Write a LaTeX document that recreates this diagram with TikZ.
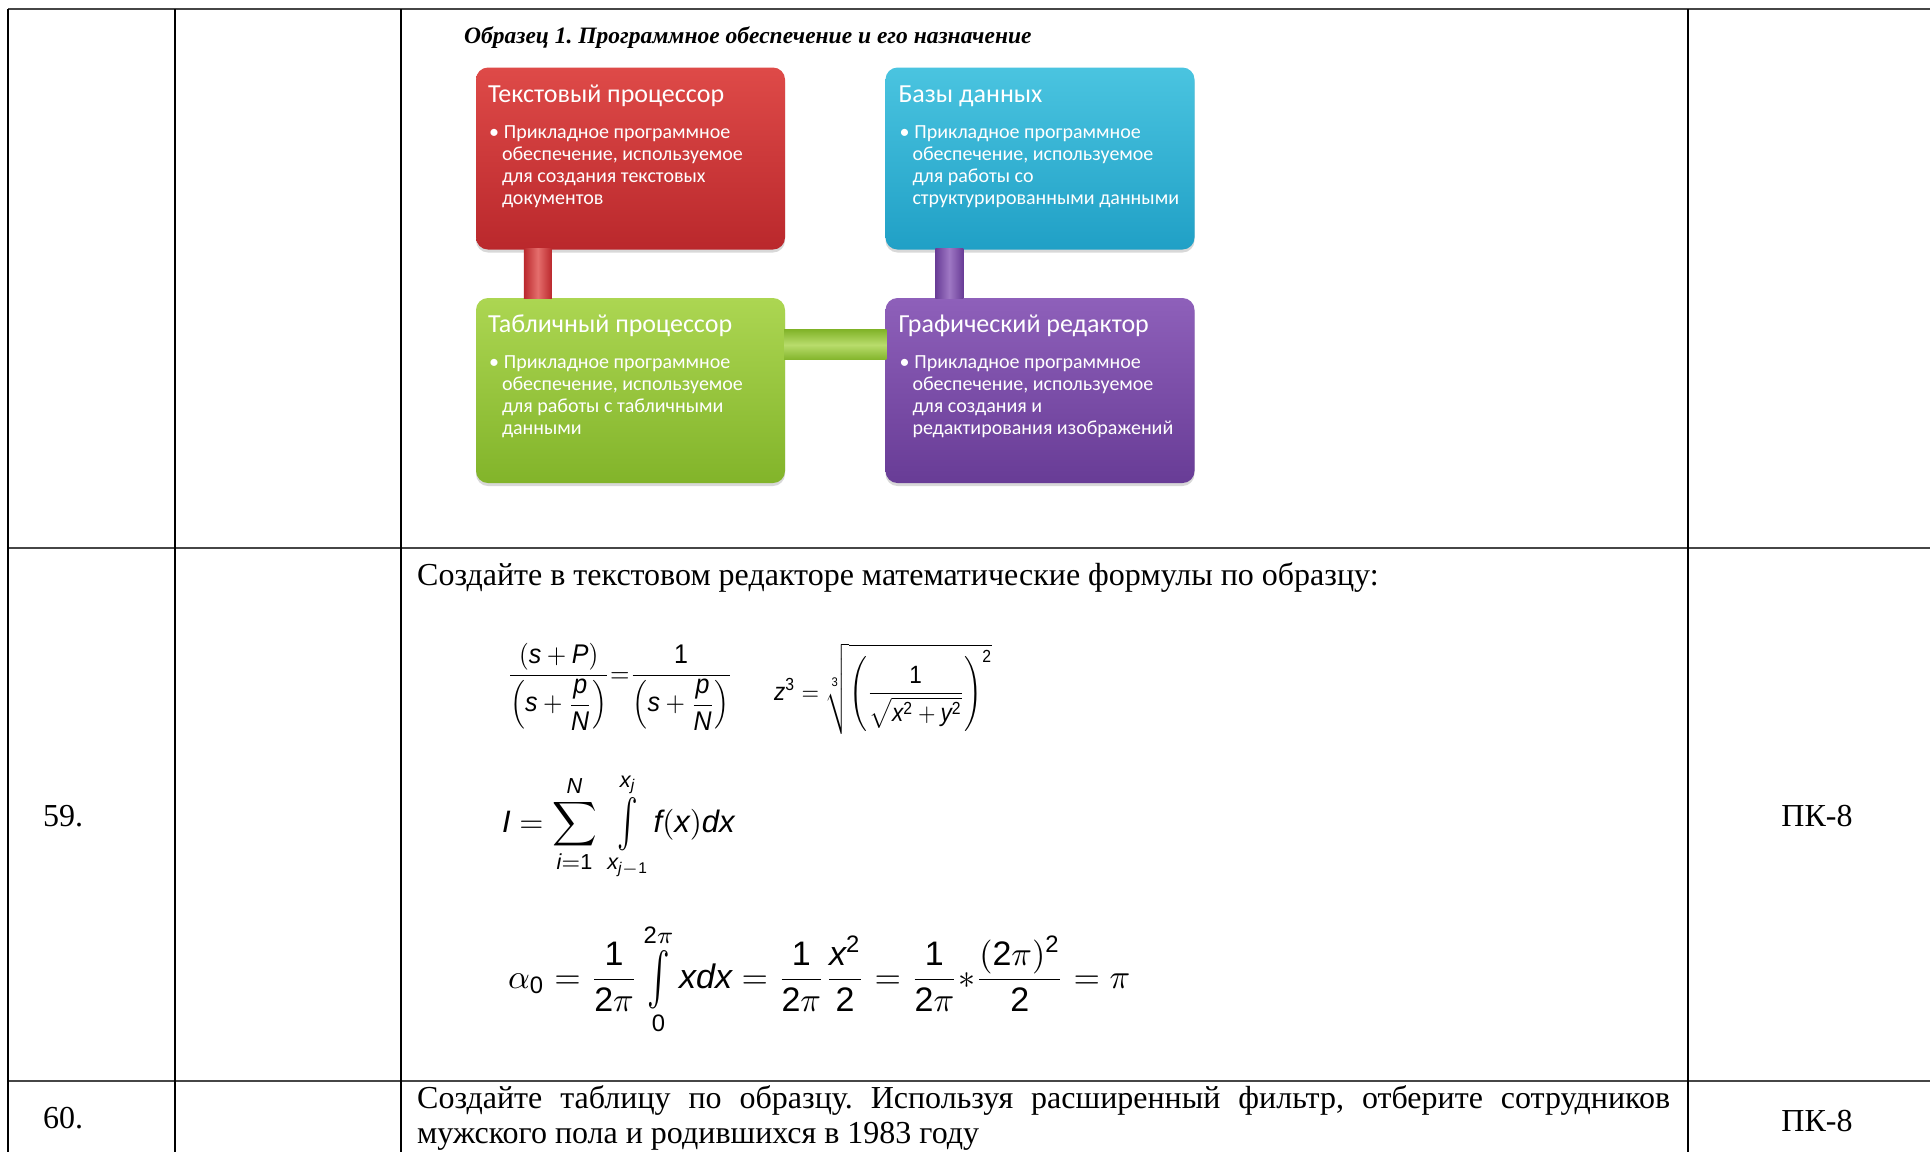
\documentclass[tikz,border=0pt]{standalone}
\usepackage{amsmath}
\usepackage{graphicx}
\usepackage{fontspec}
\setmainfont{Liberation Serif}
\newfontfamily\boxfont{Carlito}
\newfontfamily\arialfont{Liberation Sans}
\usetikzlibrary{shadows,calc}
\newcommand\mv[1]{\text{\arialfont\itshape #1}}
\newcommand\mn[1]{\text{\arialfont #1}}
\newcommand\smint{\mathop{\vcenter{\hbox{\scalebox{1}[1.55]{$\textstyle\int$}}}}\limits}
\definecolor{redTop}{RGB}{222,74,72}
\definecolor{redBot}{RGB}{186,40,44}
\definecolor{blueTop}{RGB}{74,196,224}
\definecolor{blueBot}{RGB}{32,160,198}
\definecolor{greenTop}{RGB}{172,214,82}
\definecolor{greenBot}{RGB}{130,180,42}
\definecolor{purpTop}{RGB}{142,96,186}
\definecolor{purpBot}{RGB}{104,60,150}
\definecolor{hline}{RGB}{70,70,70}
\frenchspacing
\tikzset{
  hrule/.style={line width=2.4pt, hline},
  vrule/.style={line width=2pt, black},
  cell/.style={inner sep=0pt, font=\fontsize{32}{35}\selectfont},
  sbox/.style={rounded corners=12pt, minimum width=309pt, minimum height=182pt, inner sep=0pt,
     drop shadow={opacity=0.3, shadow xshift=0pt, shadow yshift=-3pt}},
  btitle/.style={inner sep=0pt, anchor=base west, text=white, font=\boxfont\fontsize{26}{30}\selectfont},
  bbody/.style={inner sep=0pt, anchor=base west, text=white, font=\boxfont\fontsize{20}{22}\selectfont},
  fml/.style={inner sep=0pt, anchor=base west},
}
\begin{document}
\begin{tikzpicture}[x=1pt,y=-1pt]
\useasboundingbox (0,0) rectangle (1930,1152);
\fill[white] (0,0) rectangle (1930,1152);
% table grid
\draw[hrule] (8,9) -- (1930,9);
\draw[hrule] (8,548) -- (1930,548);
\draw[hrule] (8,1081) -- (1930,1081);
\draw[vrule] (8,9) -- (8,1152);
\draw[vrule] (175,9) -- (175,1152);
\draw[vrule] (401,9) -- (401,1152);
\draw[vrule] (1688,9) -- (1688,1152);

% diagram title
\node[fml, font=\bfseries\itshape\fontsize{23.5}{27}\selectfont] (ttl) at (464,43)
  {Образец 1. Программное обеспечение и его назначение};

% boxes
\node[sbox, top color=redTop, bottom color=redBot] (red) at (630.5,158.5) {};
\node[sbox, top color=blueTop, bottom color=blueBot] (blue) at (1040,158.5) {};
\node[sbox, minimum height=185pt, top color=greenTop, bottom color=greenBot] (green) at (630.5,390.5) {};
\node[sbox, minimum height=185pt, top color=purpTop, bottom color=purpBot] (purp) at (1040,390.5) {};

% connectors
\shade[left color=redBot, right color=redBot, middle color=redTop!80!white]
  ($(red.south west)+(48,-1)$) rectangle ($(green.north west)+(76,1)$);
\shade[left color=purpBot, right color=purpBot, middle color=purpTop!85!white]
  ($(blue.south west)+(50,-1)$) rectangle ($(purp.north west)+(78,1)$);
\shade[top color=greenBot, bottom color=greenBot, middle color=greenTop!85!white]
  ($(green.north east)+(-1,32)$) rectangle ($(purp.north west)+(1,62)$);

% box texts
\node[btitle] (redT) at ($(red.north west)+(12,35)$) {Текстовый процессор};
\node[bbody] (redB) at ($(red.north west)+(13,71)$) {\parbox[t]{290pt}{\raggedright
  •\hspace{5pt}Прикладное программное\\\hspace*{13pt}обеспечение, используемое\\\hspace*{13pt}для создания текстовых\\\hspace*{13pt}документов}};
\node[btitle] (blueT) at ($(blue.north west)+(13,35)$) {Базы данных};
\node[bbody] (blueB) at ($(blue.north west)+(14,71)$) {\parbox[t]{295pt}{\raggedright
  •\hspace{5pt}Прикладное программное\\\hspace*{13pt}обеспечение, используемое\\\hspace*{13pt}для работы со\\\hspace*{13pt}структурированными данными}};
\node[btitle] (greenT) at ($(green.north west)+(12,35)$) {Табличный процессор};
\node[bbody] (greenB) at ($(green.north west)+(13,71)$) {\parbox[t]{290pt}{\raggedright
  •\hspace{5pt}Прикладное программное\\\hspace*{13pt}обеспечение, используемое\\\hspace*{13pt}для работы с табличными\\\hspace*{13pt}данными}};
\node[btitle] (purpT) at ($(purp.north west)+(13,35)$) {Графический редактор};
\node[bbody] (purpB) at ($(purp.north west)+(14,71)$) {\parbox[t]{295pt}{\raggedright
  •\hspace{5pt}Прикладное программное\\\hspace*{13pt}обеспечение, используемое\\\hspace*{13pt}для создания и\\\hspace*{13pt}редактирования изображений}};

% row 59
\node[cell, anchor=base west] (n59) at (43,826) {59.};
\node[cell, anchor=base] (pk59) at (1817,826) {ПК-8};
\node[cell, anchor=base west] (task59) at (417,585)
  {Создайте в текстовом редакторе математические формулы по образцу:};

% formulas
\node[fml] (f1a) at (507,682)
  {\scalebox{2.5}[2.7]{$\dfrac{(\mv{s}+\mv{P})}{\left(\mv{s}+\dfrac{\mv{p}}{\mv{N}}\right)}{=}\dfrac{\mn{1}}{\left(\mv{s}+\dfrac{\mv{p}}{\mv{N}}\right)}$}};
\node[fml] (f1b) at (774,700)
  {\scalebox{2.25}[2.5]{$\mv{z}^{\mn{3}}=\sqrt[\mn{3}]{\left(\dfrac{\mn{1}}{\sqrt{\mv{x}^{\mn{2}}+\mv{y}^{\mn{2}}}}\right)^{\mn{2}}}$}};
\node[fml] (f2) at (502,832)
  {\scalebox{3.1}{$\displaystyle\mv{I}=\sum\limits_{\mv{i}=\mn{1}}^{\mv{N}}\,\smint_{\mv{x}_{\mv{j}-\mn{1}}}^{\mv{x}_{\mv{j}}}\mv{f}(\mv{x})\mv{dx}$}};
\node[fml] (f3) at (508,988)
  {\scalebox{3.4}{$\displaystyle\alpha_{\mn{0}}=\frac{\mn{1}}{\mn{2}\pi}\smint_{\mn{0}}^{\mn{2}\pi}\mv{xdx}=\frac{\mn{1}}{\mn{2}\pi}\frac{\mv{x}^{\mn{2}}}{\mn{2}}=\frac{\mn{1}}{\mn{2}\pi}{\ast}\frac{(\mn{2}\pi)^{\mn{2}}}{\mn{2}}=\pi$}};

% row 60
\node[cell, anchor=base west] (n60) at (43,1128) {60.};
\node[cell, anchor=base] (pk60) at (1817,1131) {ПК-8};
\node[cell, anchor=base west] (task60) at (417,1108) {\parbox[t]{1253pt}{\fontsize{32}{35}\selectfont
  Создайте таблицу по образцу. Используя расширенный фильтр, отберите сотрудников\linebreak
  мужского пола и родившихся в 1983 году}};
\end{tikzpicture}
\end{document}
